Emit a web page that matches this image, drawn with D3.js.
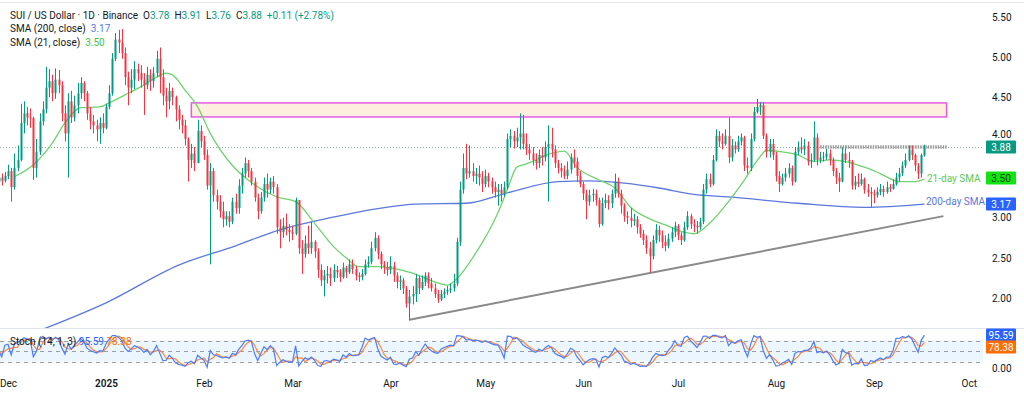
<!DOCTYPE html>
<html>
<head>
<meta charset="utf-8">
<script src="https://cdn.jsdelivr.net/npm/d3@7"></script>
<style>
  body { margin: 0; background: #fff; }
  svg { display: block; font-family: Roboto, "Liberation Sans", sans-serif; }
  text { white-space: pre; }
</style>
</head>
<body>
<div id="chart"></div>
<script>
// ---- data (SUI/USDT daily, Binance) ----
// one block per month, opens are the previous close (24/7 market)
const firstOpen = 3.45;
const blockStart = ["2024-11-28", "2024-12-01", "2025-01-01", "2025-02-01", "2025-03-01", "2025-04-01",
                    "2025-05-01", "2025-06-01", "2025-07-01", "2025-08-01", "2025-09-01"];

const closes = [
  [3.50, 3.46, 3.52],
  [3.58, 3.38, 3.62, 3.72, 4.18, 4.30, 4.25, 4.24, 3.62, 3.82, 4.20, 4.35, 4.62, 4.70, 4.55, 4.72, 4.65, 4.30, 4.05, 4.45, 4.25, 4.40, 4.55, 4.68, 4.55, 4.30, 4.20, 4.15, 4.10, 4.18, 4.12],
  [4.38, 4.55, 4.98, 5.22, 5.18, 5.05, 4.75, 4.62, 4.72, 4.85, 4.80, 4.72, 4.65, 4.78, 4.70, 4.80, 4.98, 4.75, 4.52, 4.45, 4.58, 4.50, 4.35, 4.22, 4.15, 3.98, 3.72, 3.80, 3.68, 4.08, 3.95],
  [3.78, 3.40, 3.58, 3.28, 3.20, 3.08, 2.98, 3.02, 2.95, 3.20, 3.12, 3.40, 3.55, 3.68, 3.58, 3.45, 3.25, 3.08, 3.25, 3.42, 3.35, 3.45, 3.38, 2.88, 2.82, 2.90, 2.85, 2.82],
  [2.80, 3.22, 2.62, 2.55, 2.68, 2.62, 2.70, 2.58, 2.35, 2.22, 2.28, 2.30, 2.25, 2.35, 2.32, 2.26, 2.38, 2.32, 2.42, 2.36, 2.28, 2.26, 2.30, 2.42, 2.45, 2.62, 2.75, 2.55, 2.42, 2.38, 2.35],
  [2.40, 2.28, 2.20, 2.22, 2.12, 1.93, 2.02, 2.05, 2.25, 2.12, 2.20, 2.28, 2.18, 2.12, 2.05, 1.98, 2.05, 2.08, 2.10, 2.12, 2.18, 2.70, 3.35, 3.62, 3.55, 3.58, 3.52, 3.55, 3.50, 3.42],
  [3.52, 3.45, 3.38, 3.32, 3.35, 3.30, 3.38, 3.98, 4.02, 3.95, 4.00, 4.05, 3.92, 3.85, 3.80, 3.72, 3.68, 3.78, 3.75, 3.88, 3.92, 3.85, 3.68, 3.62, 3.58, 3.52, 3.60, 3.75, 3.70, 3.52, 3.42],
  [3.30, 3.20, 3.28, 3.30, 3.22, 2.92, 3.18, 3.22, 3.18, 3.30, 3.45, 3.30, 3.15, 3.02, 3.00, 2.96, 2.98, 2.88, 2.80, 2.72, 2.62, 2.52, 2.72, 2.85, 2.78, 2.70, 2.65, 2.74, 2.82, 2.90],
  [2.78, 2.72, 2.88, 3.02, 2.92, 2.90, 2.88, 2.95, 3.35, 3.48, 3.42, 3.72, 4.02, 3.95, 3.92, 4.02, 3.75, 3.90, 3.85, 3.95, 4.00, 3.65, 3.62, 3.98, 4.32, 4.38, 4.40, 4.02, 3.82, 3.92, 3.78],
  [3.52, 3.42, 3.50, 3.55, 3.62, 3.45, 3.82, 3.88, 3.85, 3.90, 3.70, 3.72, 4.00, 3.72, 3.75, 3.76, 3.80, 3.72, 3.58, 3.50, 3.45, 3.80, 3.72, 3.70, 3.40, 3.45, 3.42, 3.48, 3.35, 3.32, 3.30],
  [3.28, 3.32, 3.36, 3.32, 3.38, 3.36, 3.42, 3.50, 3.55, 3.65, 3.72, 3.85, 3.78, 3.65, 3.55, 3.78, 3.88]
];

const highs = [
  [3.58, 3.55, 3.57],
  [3.66, 3.62, 3.80, 3.90, 4.42, 4.45, 4.38, 4.36, 4.26, 3.98, 4.30, 4.45, 4.88, 4.85, 4.78, 4.86, 4.84, 4.70, 4.40, 4.55, 4.58, 4.52, 4.68, 4.75, 4.70, 4.58, 4.38, 4.28, 4.22, 4.25, 4.30],
  [4.42, 4.65, 5.05, 5.30, 5.34, 5.35, 5.12, 4.82, 4.85, 4.95, 4.92, 4.90, 4.80, 4.88, 4.85, 4.88, 5.08, 5.12, 4.85, 4.62, 4.68, 4.62, 4.52, 4.40, 4.28, 4.22, 4.00, 3.92, 3.88, 4.22, 4.15],
  [4.02, 3.85, 3.68, 3.62, 3.35, 3.28, 3.20, 3.08, 3.08, 3.25, 3.30, 3.48, 3.62, 3.75, 3.72, 3.62, 3.50, 3.30, 3.32, 3.50, 3.55, 3.50, 3.52, 3.42, 2.98, 3.00, 3.05, 2.92],
  [2.90, 3.25, 3.20, 2.72, 2.78, 2.90, 2.95, 2.72, 2.62, 2.42, 2.35, 2.40, 2.38, 2.42, 2.40, 2.36, 2.44, 2.40, 2.48, 2.48, 2.40, 2.32, 2.36, 2.48, 2.52, 2.70, 2.82, 2.78, 2.58, 2.46, 2.45],
  [2.52, 2.45, 2.32, 2.28, 2.25, 2.15, 2.10, 2.15, 2.30, 2.28, 2.28, 2.32, 2.32, 2.25, 2.18, 2.10, 2.10, 2.12, 2.15, 2.18, 2.30, 2.75, 3.45, 3.80, 3.92, 3.90, 3.68, 3.62, 3.65, 3.58],
  [3.60, 3.56, 3.50, 3.45, 3.42, 3.42, 3.45, 4.05, 4.10, 4.08, 4.12, 4.30, 4.28, 4.05, 3.92, 3.88, 3.80, 3.85, 3.88, 3.95, 4.15, 4.12, 3.90, 3.72, 3.68, 3.65, 3.70, 3.80, 3.85, 3.75, 3.58],
  [3.45, 3.35, 3.35, 3.36, 3.35, 3.25, 3.25, 3.30, 3.28, 3.35, 3.55, 3.50, 3.35, 3.18, 3.08, 3.12, 3.05, 3.02, 2.92, 2.85, 2.78, 2.70, 2.78, 2.92, 2.90, 2.84, 2.78, 2.80, 2.88, 2.95],
  [2.92, 2.82, 2.95, 3.08, 3.05, 2.98, 2.96, 3.00, 3.42, 3.55, 3.55, 3.78, 4.10, 4.08, 4.05, 4.10, 4.25, 3.98, 3.95, 4.02, 4.05, 4.02, 3.75, 4.05, 4.38, 4.48, 4.44, 4.44, 4.05, 3.98, 3.98],
  [3.82, 3.58, 3.55, 3.62, 3.68, 3.65, 3.88, 3.95, 4.00, 3.98, 3.95, 3.80, 4.20, 4.05, 3.82, 3.82, 3.86, 3.85, 3.75, 3.62, 3.56, 3.88, 3.90, 3.82, 3.72, 3.52, 3.55, 3.55, 3.50, 3.42, 3.38],
  [3.35, 3.38, 3.42, 3.40, 3.45, 3.42, 3.48, 3.56, 3.62, 3.70, 3.80, 3.90, 3.90, 3.80, 3.68, 3.80, 3.91]
];

const lows = [
  [3.42, 3.40, 3.44],
  [3.48, 3.20, 3.35, 3.58, 3.70, 4.05, 4.15, 4.12, 3.47, 3.50, 3.78, 4.15, 4.30, 4.50, 4.45, 4.48, 4.55, 4.20, 3.95, 3.50, 4.18, 4.20, 4.30, 4.48, 4.45, 4.22, 4.10, 4.05, 3.95, 3.92, 4.05],
  [4.10, 4.35, 4.52, 4.95, 5.05, 4.98, 4.65, 4.40, 4.55, 4.60, 4.70, 4.62, 4.28, 4.60, 4.58, 4.62, 4.75, 4.55, 4.40, 4.25, 4.35, 4.40, 4.20, 4.10, 4.05, 3.90, 3.45, 3.62, 3.58, 3.68, 3.88],
  [3.72, 3.35, 2.42, 3.20, 3.10, 3.00, 2.88, 2.90, 2.88, 2.92, 3.05, 3.05, 3.30, 3.50, 3.50, 3.40, 3.20, 2.98, 3.05, 3.20, 3.25, 3.30, 3.30, 2.80, 2.62, 2.75, 2.78, 2.70],
  [2.72, 2.78, 2.55, 2.30, 2.50, 2.55, 2.55, 2.50, 2.25, 2.15, 2.02, 2.18, 2.15, 2.20, 2.25, 2.20, 2.24, 2.25, 2.30, 2.30, 2.22, 2.20, 2.22, 2.28, 2.38, 2.42, 2.58, 2.48, 2.36, 2.30, 2.28],
  [2.30, 2.20, 2.12, 2.10, 2.05, 1.88, 1.72, 1.92, 1.95, 2.05, 2.10, 2.15, 2.12, 2.08, 2.00, 1.94, 1.96, 2.00, 2.04, 2.06, 2.08, 2.15, 2.65, 3.30, 3.48, 3.50, 3.45, 3.42, 3.40, 3.32],
  [3.38, 3.38, 3.30, 3.25, 3.15, 3.20, 3.26, 3.35, 3.88, 3.86, 3.88, 3.85, 3.85, 3.78, 3.72, 3.65, 3.60, 3.62, 3.65, 3.70, 3.20, 3.75, 3.62, 3.55, 3.50, 3.48, 3.48, 3.55, 3.62, 3.45, 3.38],
  [3.22, 2.98, 3.15, 3.20, 3.15, 2.88, 2.90, 3.12, 3.10, 3.12, 3.25, 3.25, 3.05, 2.95, 2.92, 2.88, 2.90, 2.80, 2.75, 2.66, 2.55, 2.32, 2.48, 2.68, 2.70, 2.62, 2.58, 2.62, 2.70, 2.76],
  [2.72, 2.66, 2.70, 2.85, 2.86, 2.82, 2.80, 2.85, 2.92, 3.30, 3.38, 3.40, 3.70, 3.88, 3.85, 3.90, 3.68, 3.70, 3.80, 3.82, 3.90, 3.58, 3.55, 3.58, 3.95, 4.30, 4.28, 3.98, 3.75, 3.75, 3.72],
  [3.45, 3.32, 3.40, 3.45, 3.50, 3.40, 3.44, 3.78, 3.80, 3.78, 3.65, 3.62, 3.70, 3.65, 3.68, 3.70, 3.72, 3.65, 3.52, 3.42, 3.32, 3.44, 3.68, 3.62, 3.35, 3.35, 3.38, 3.40, 3.30, 3.26, 3.13],
  [3.18, 3.25, 3.28, 3.26, 3.30, 3.32, 3.35, 3.40, 3.45, 3.52, 3.62, 3.70, 3.72, 3.58, 3.48, 3.50, 3.76]
];

// moving averages
const sma21 = [
  ["2024-12-03", 3.51], ["2024-12-09", 3.66], ["2024-12-15", 3.93], ["2024-12-19", 4.18], ["2024-12-24", 4.37],
  ["2024-12-30", 4.38], ["2025-01-02", 4.43], ["2025-01-07", 4.53], ["2025-01-12", 4.63], ["2025-01-17", 4.75],
  ["2025-01-20", 4.80], ["2025-01-22", 4.78], ["2025-01-26", 4.59], ["2025-01-30", 4.38], ["2025-02-03", 4.05],
  ["2025-02-10", 3.65], ["2025-02-15", 3.47], ["2025-02-24", 3.26], ["2025-03-02", 3.20], ["2025-03-08", 2.93],
  ["2025-03-14", 2.64], ["2025-03-18", 2.50], ["2025-03-22", 2.39], ["2025-03-28", 2.39], ["2025-04-02", 2.37],
  ["2025-04-08", 2.31], ["2025-04-15", 2.20], ["2025-04-19", 2.16], ["2025-04-22", 2.24], ["2025-04-28", 2.56],
  ["2025-05-05", 3.06], ["2025-05-08", 3.35], ["2025-05-11", 3.63], ["2025-05-14", 3.67], ["2025-05-22", 3.80],
  ["2025-05-26", 3.83], ["2025-05-30", 3.63], ["2025-06-06", 3.47], ["2025-06-11", 3.37], ["2025-06-16", 3.13],
  ["2025-06-23", 2.97], ["2025-06-27", 2.91], ["2025-07-03", 2.82], ["2025-07-06", 2.80], ["2025-07-11", 2.93],
  ["2025-07-17", 3.20], ["2025-07-22", 3.47], ["2025-07-27", 3.76], ["2025-07-29", 3.84], ["2025-08-03", 3.82],
  ["2025-08-08", 3.78], ["2025-08-13", 3.70], ["2025-08-18", 3.72], ["2025-08-23", 3.70], ["2025-08-29", 3.63],
  ["2025-09-03", 3.55], ["2025-09-09", 3.45], ["2025-09-14", 3.45], ["2025-09-17", 3.48]
];
const sma200 = [
  ["2024-12-10", 1.58], ["2025-01-01", 1.94], ["2025-01-24", 2.41], ["2025-02-11", 2.65], ["2025-02-25", 2.85],
  ["2025-03-13", 3.00], ["2025-03-29", 3.12], ["2025-04-09", 3.17], ["2025-04-25", 3.18], ["2025-05-08", 3.31],
  ["2025-05-24", 3.45], ["2025-06-03", 3.46], ["2025-06-14", 3.43], ["2025-06-25", 3.37], ["2025-07-06", 3.29],
  ["2025-07-17", 3.26], ["2025-08-08", 3.18], ["2025-08-29", 3.13], ["2025-09-17", 3.17]
];

// drawings
const zone = { from: "2025-01-28", to: "2025-09-24", top: 4.43, bottom: 4.255 };
const ceiling = { from: "2025-08-15", to: "2025-09-24", value: 3.88 };
const trend = [["2025-04-07", 1.73], ["2025-09-23", 3.02]];

const priceTicks = [2.0, 2.5, 3.0, 3.5, 4.0, 4.5, 5.0, 5.5];
const stochLevels = [80, 50, 20];
const monthTicks = ["2024-12-01", "2025-01-01", "2025-02-01", "2025-03-01", "2025-04-01", "2025-05-01",
                    "2025-06-01", "2025-07-01", "2025-08-01", "2025-09-01", "2025-10-01"];
const monthLabels = ["Dec", "2025", "Feb", "Mar", "Apr", "May", "Jun", "Jul", "Aug", "Sep", "Oct"];

const last = { open: 3.78, high: 3.91, low: 3.76, close: 3.88, chg: "+0.11 (+2.78%)" };
const lastSma200 = 3.17, lastSma21 = 3.50, lastK = 95.59, lastD = 78.38;

// ---- chart ----
const W = 1024, H = 395;
const plotRight = 983;
const paneBottom = 328;
const up = "#089981", down = "#f23645";
const fs = 10;

const parse = d3.utcParse("%Y-%m-%d");

const bars = [];
let prevClose = firstOpen;
blockStart.forEach((s, b) => {
    const d0 = parse(s);
    closes[b].forEach((c, i) => {
        bars.push({ date: d3.utcDay.offset(d0, i), open: prevClose, high: highs[b][i], low: lows[b][i], close: c });
        prevClose = c;
    });
});

// Stoch (14, 1, 3)
bars.forEach((b, i) => {
    const win = bars.slice(Math.max(0, i - 13), i + 1);
    const hh = d3.max(win, d => d.high), ll = d3.min(win, d => d.low);
    b.k = 100 * (b.close - ll) / (hh - ll);
});
bars.forEach((b, i) => {
    b.d = d3.mean(bars.slice(Math.max(0, i - 2), i + 1), d => d.k);
});

const x = d3.scaleUtc()
    .domain([parse("2025-01-01"), parse("2025-10-01")])
    .range([106, 968.7]);
const y = d3.scaleLinear().domain([2, 5.5]).range([298, 17]);
const ys = d3.scaleLinear().domain([0, 100]).range([368.5, 333.5]);

const svg = d3.select("#chart").append("svg")
    .attr("width", W)
    .attr("height", H);

svg.append("defs").append("clipPath").attr("id", "pane")
    .append("rect").attr("x", 0).attr("y", 0).attr("width", plotRight).attr("height", paneBottom);

// frame lines
svg.append("line").attr("x1", 0).attr("x2", W).attr("y1", 2.5).attr("y2", 2.5)
    .attr("stroke", "#e6e8ee");
svg.append("line").attr("x1", 0).attr("x2", W).attr("y1", paneBottom + 0.5).attr("y2", paneBottom + 0.5)
    .attr("stroke", "#e0e3eb");

const pane = svg.append("g").attr("clip-path", "url(#pane)");

// resistance zone
pane.append("rect")
    .attr("x", x(parse(zone.from)))
    .attr("y", y(zone.top))
    .attr("width", x(parse(zone.to)) - x(parse(zone.from)))
    .attr("height", y(zone.bottom) - y(zone.top))
    .attr("fill", "#fdeedd")
    .attr("stroke", "#e45ce4")
    .attr("stroke-width", 1.5);

// last price line
pane.append("line")
    .attr("x1", 0).attr("x2", plotRight)
    .attr("y1", Math.round(y(last.close)) + 0.5).attr("y2", Math.round(y(last.close)) + 0.5)
    .attr("stroke", "#8fa9a5")
    .attr("stroke-dasharray", "1,2");

// rising trend line
pane.append("line")
    .attr("x1", x(parse(trend[0][0]))).attr("y1", y(trend[0][1]))
    .attr("x2", x(parse(trend[1][0]))).attr("y2", y(trend[1][1]))
    .attr("stroke", "#8a8a8a")
    .attr("stroke-width", 2);

// moving averages
const maLine = d3.line()
    .x(d => x(parse(d[0])))
    .y(d => y(d[1]))
    .curve(d3.curveMonotoneX);

pane.append("path").datum(sma200)
    .attr("d", maLine)
    .attr("fill", "none")
    .attr("stroke", "#5b78dc")
    .attr("stroke-width", 1.3);

pane.append("path").datum(sma21)
    .attr("d", maLine)
    .attr("fill", "none")
    .attr("stroke", "#6fd36f")
    .attr("stroke-width", 1.3);

// candles
const candle = pane.selectAll("g.candle")
    .data(bars)
    .join("g")
    .attr("class", "candle");

candle.append("line")
    .attr("x1", d => Math.round(x(d.date)) + 0.5)
    .attr("x2", d => Math.round(x(d.date)) + 0.5)
    .attr("y1", d => y(d.high))
    .attr("y2", d => y(d.low))
    .attr("stroke", d => d.close >= d.open ? up : down)
    .attr("stroke-width", 1);

candle.append("rect")
    .attr("x", d => Math.round(x(d.date)) - 0.5)
    .attr("width", 2)
    .attr("y", d => y(Math.max(d.open, d.close)))
    .attr("height", d => Math.max(1, Math.abs(y(d.open) - y(d.close))))
    .attr("fill", d => d.close >= d.open ? up : down);

// horizontal ceiling near 3.88
pane.append("line")
    .attr("x1", x(parse(ceiling.from))).attr("x2", x(parse(ceiling.to)))
    .attr("y1", y(ceiling.value)).attr("y2", y(ceiling.value))
    .attr("stroke", "#9c9c9c")
    .attr("stroke-width", 3.5)
    .attr("stroke-dasharray", "1.5,1");

// SMA captions
svg.append("text")
    .attr("x", 927).attr("y", y(lastSma21) + 4)
    .attr("font-size", fs)
    .attr("fill", "#5cc95c")
    .text("21-day SMA");
svg.append("text")
    .attr("x", 926).attr("y", 205)
    .attr("font-size", fs)
    .attr("fill", "#5b78dc")
    .text("200-day SMA");

// price axis
svg.append("g")
    .attr("transform", `translate(${plotRight + 3},0)`)
    .call(d3.axisRight(y).tickValues(priceTicks).tickFormat(d3.format(".2f")).tickSize(0).tickPadding(6))
    .call(g => g.select(".domain").remove())
    .call(g => g.selectAll("text").attr("font-size", fs).attr("fill", "#131722")
        .attr("font-family", "Roboto, sans-serif")
        .attr("dy", d => d === 4 ? "0.05em" : "0.32em"));

// value tags on the axis
function tag(yPos, label, bg, fg) {
    const g = svg.append("g").attr("transform", `translate(986,${Math.round(yPos) - 6.5})`);
    g.append("rect").attr("width", 30).attr("height", 13).attr("rx", 1).attr("fill", bg);
    g.append("text").attr("x", 15).attr("y", 10).attr("text-anchor", "middle")
        .attr("font-size", fs).attr("fill", fg).text(label);
}
tag(y(last.close), last.close.toFixed(2), "#089981", "#fff");
tag(y(lastSma21), lastSma21.toFixed(2), "#13e313", "#0b3d0b");
tag(y(lastSma200), lastSma200.toFixed(2), "#2962ff", "#fff");

// ---- stochastic pane ----
const st = svg.append("g");
st.append("rect")
    .attr("x", 0).attr("width", plotRight)
    .attr("y", ys(80)).attr("height", ys(20) - ys(80))
    .attr("fill", "rgba(33,150,243,0.09)");

st.selectAll("line.level")
    .data(stochLevels)
    .join("line")
    .attr("class", "level")
    .attr("x1", 0).attr("x2", plotRight)
    .attr("y1", d => Math.round(ys(d)) + 0.5).attr("y2", d => Math.round(ys(d)) + 0.5)
    .attr("stroke", "#9a9da6")
    .attr("stroke-dasharray", "4,4");

const kLine = d3.line().x(d => x(d.date)).y(d => ys(d.k));
const dLine = d3.line().x(d => x(d.date)).y(d => ys(d.d));

st.append("path").datum(bars)
    .attr("d", dLine)
    .attr("fill", "none")
    .attr("stroke", "#ff8a3d")
    .attr("stroke-width", 1.2);
st.append("path").datum(bars)
    .attr("d", kLine)
    .attr("fill", "none")
    .attr("stroke", "#4f7cf7")
    .attr("stroke-width", 1.2);

svg.append("text")
    .attr("x", 992).attr("y", ys(0) + 3.5)
    .attr("font-size", fs).attr("fill", "#131722")
    .text("0.00");

tag(ys(lastK), lastK.toFixed(2), "#2962ff", "#fff");
tag(ys(lastD) + 6, lastD.toFixed(2), "#ff6d00", "#fff");

const stLegend = svg.append("text")
    .attr("x", 10).attr("y", 345)
    .attr("font-size", fs);
stLegend.append("tspan").attr("fill", "#131722").text("Stoch (14, 1, 3) ");
stLegend.append("tspan").attr("fill", "#2962ff").text(lastK.toFixed(2) + " ");
stLegend.append("tspan").attr("fill", "#ff6d00").text(lastD.toFixed(2));

// ---- time axis ----
svg.append("g")
    .attr("transform", "translate(0,376)")
    .call(d3.axisBottom(x)
        .tickValues(monthTicks.map(parse))
        .tickFormat((d, i) => monthLabels[i])
        .tickSize(0).tickPadding(4))
    .call(g => g.select(".domain").remove())
    .call(g => g.selectAll("text")
        .attr("font-size", fs)
        .attr("fill", "#131722")
        .attr("font-family", "Roboto, sans-serif")
        .attr("font-weight", (d, i) => monthLabels[i] === "2025" ? 600 : 400));

// ---- legend ----
const fmt = d3.format(".2f");
const hdr = svg.append("text").attr("x", 10).attr("y", 18.5).attr("font-size", fs).attr("fill", "#131722");
hdr.append("tspan").text("SUI / US Dollar · 1D · Binance  O");
hdr.append("tspan").attr("fill", up).text(fmt(last.open));
hdr.append("tspan").text("  H");
hdr.append("tspan").attr("fill", up).text(fmt(last.high));
hdr.append("tspan").text("  L");
hdr.append("tspan").attr("fill", up).text(fmt(last.low));
hdr.append("tspan").text("  C");
hdr.append("tspan").attr("fill", up).text(fmt(last.close));
hdr.append("tspan").attr("fill", up).text("  " + last.chg);

const l2 = svg.append("text").attr("x", 10).attr("y", 32).attr("font-size", fs).attr("fill", "#131722");
l2.append("tspan").text("SMA (200, close)  ");
l2.append("tspan").attr("fill", "#5b78dc").text(fmt(lastSma200));

const l3 = svg.append("text").attr("x", 10).attr("y", 45.5).attr("font-size", fs).attr("fill", "#131722");
l3.append("tspan").text("SMA (21, close)  ");
l3.append("tspan").attr("fill", "#3fc43f").text(fmt(lastSma21));
</script>
</body>
</html>
